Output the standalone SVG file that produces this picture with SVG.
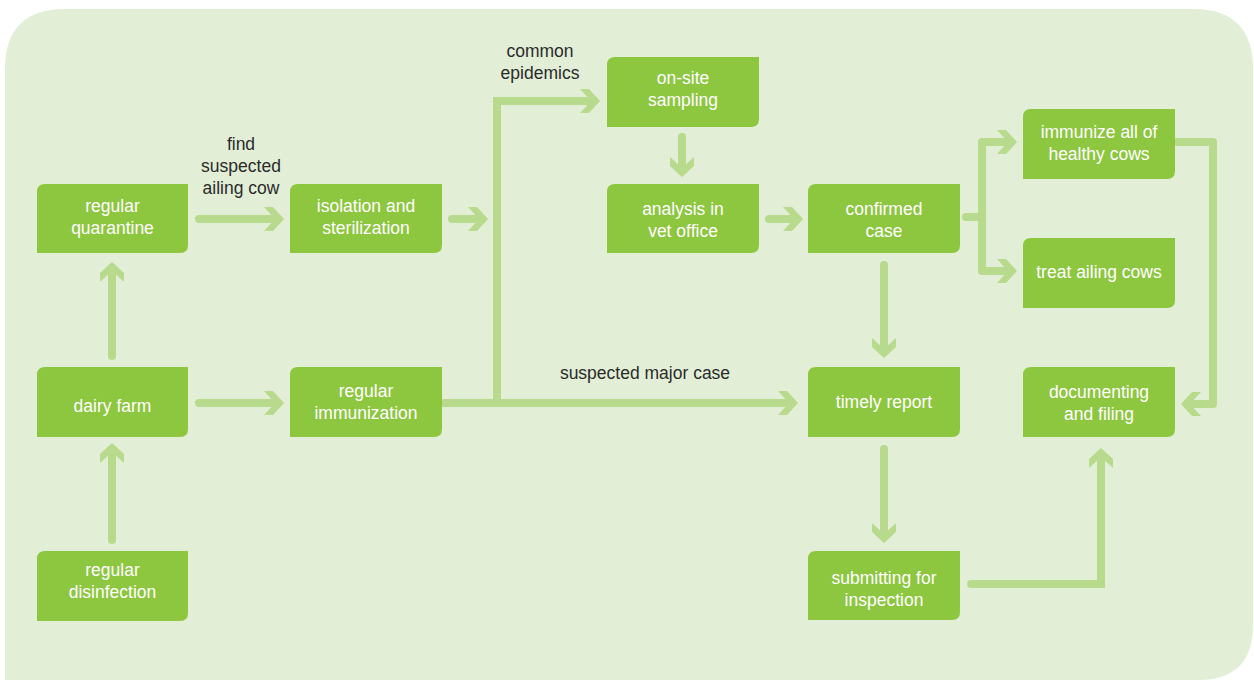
<svg xmlns="http://www.w3.org/2000/svg" width="1254" height="680" viewBox="0 0 1254 680">
<style>
.bg{fill:#e2efd6}
.node rect,.node path{fill:#8dc63f}
.nt{fill:#ffffff;font-family:"Liberation Sans",Arial,sans-serif;font-size:17.5px;text-anchor:middle}
.lbl{fill:#2b2b2b;font-family:"Liberation Sans",Arial,sans-serif;font-size:17.5px;text-anchor:middle}
.c{fill:none;stroke:#b8da8c;stroke-width:8;stroke-linecap:round;stroke-linejoin:round}
.cm{fill:none;stroke:#b8da8c;stroke-width:8;stroke-linecap:round;stroke-linejoin:miter}
</style>
<defs>
<marker id="ah" markerUnits="userSpaceOnUse" markerWidth="40" markerHeight="40" viewBox="-20 -20 40 40" refX="0" refY="0" orient="auto" overflow="visible">
<path d="M6,0 L-5,-12 L-14,-12 L-3,0 L-14,12 L-5,12 Z" fill="#b8da8c"/>
</marker>
</defs>
<path class="bg" d="M5,69 Q5,9 65,9 L1193,9 Q1253,9 1253,69 L1253,625 Q1253,680 1198,680 L5,680 Z"/>

<g id="connectors">
<path class="c" d="M199,219 L278,219" marker-end="url(#ah)"/>
<path class="c" d="M452,219 L482,219" marker-end="url(#ah)"/>
<path class="cm" d="M497,403 L497,101 L594,101" marker-end="url(#ah)"/>
<path class="c" d="M444,403 L792,403" marker-end="url(#ah)"/>
<path class="c" d="M682,137 L682,171" marker-end="url(#ah)"/>
<path class="c" d="M769,219 L797,219" marker-end="url(#ah)"/>
<path class="c" d="M966,217 L982,217"/>
<path class="c" d="M982,217 L982,142 L1011,142" marker-end="url(#ah)"/>
<path class="c" d="M982,217 L982,271 L1011,271" marker-end="url(#ah)"/>
<path class="c" d="M1177,142 L1213,142 L1213,404 L1187,404" marker-end="url(#ah)"/>
<path class="c" d="M884,265 L884,352" marker-end="url(#ah)"/>
<path class="c" d="M884,449 L884,537" marker-end="url(#ah)"/>
<path class="cm" d="M971,584 L1101,584 L1101,454" marker-end="url(#ah)"/>
<path class="c" d="M199,403 L278,403" marker-end="url(#ah)"/>
<path class="c" d="M112,356 L112,268" marker-end="url(#ah)"/>
<path class="c" d="M112,540 L112,449" marker-end="url(#ah)"/>
<text class="lbl" x="241" y="150">find</text>
<text class="lbl" x="241" y="172">suspected</text>
<text class="lbl" x="241" y="194">ailing cow</text>
<text class="lbl" x="540" y="57">common</text>
<text class="lbl" x="540" y="79">epidemics</text>
<text class="lbl" x="645" y="379">suspected major case</text>
</g>

<g id="regular-quarantine" class="node">
<path d="M45,184 L188,184 L188,245 Q188,253 180,253 L37,253 L37,192 Q37,184 45,184 Z"/>
<text class="nt" x="112.5" y="212">regular</text>
<text class="nt" x="112.5" y="234">quarantine</text>
</g>
<g id="isolation" class="node">
<path d="M298,184 L442,184 L442,245 Q442,253 434,253 L290,253 L290,192 Q290,184 298,184 Z"/>
<text class="nt" x="366" y="212">isolation and</text>
<text class="nt" x="366" y="234">sterilization</text>
</g>
<g id="on-site-sampling" class="node">
<path d="M615,57 L759,57 L759,119 Q759,127 751,127 L607,127 L607,65 Q607,57 615,57 Z"/>
<text class="nt" x="683" y="84">on-site</text>
<text class="nt" x="683" y="106">sampling</text>
</g>
<g id="analysis" class="node">
<path d="M615,184 L759,184 L759,245 Q759,253 751,253 L607,253 L607,192 Q607,184 615,184 Z"/>
<text class="nt" x="683" y="215">analysis in</text>
<text class="nt" x="683" y="237">vet office</text>
</g>
<g id="confirmed-case" class="node">
<path d="M816,184 L960,184 L960,245 Q960,253 952,253 L808,253 L808,192 Q808,184 816,184 Z"/>
<text class="nt" x="884" y="215">confirmed</text>
<text class="nt" x="884" y="237">case</text>
</g>
<g id="immunize" class="node">
<path d="M1031,109 L1175,109 L1175,171 Q1175,179 1167,179 L1023,179 L1023,117 Q1023,109 1031,109 Z"/>
<text class="nt" x="1099" y="138">immunize all of</text>
<text class="nt" x="1099" y="160">healthy cows</text>
</g>
<g id="treat" class="node">
<path d="M1031,238 L1175,238 L1175,300 Q1175,308 1167,308 L1023,308 L1023,246 Q1023,238 1031,238 Z"/>
<text class="nt" x="1099" y="278">treat ailing cows</text>
</g>
<g id="dairy-farm" class="node">
<path d="M45,367 L188,367 L188,429 Q188,437 180,437 L37,437 L37,375 Q37,367 45,367 Z"/>
<text class="nt" x="112.5" y="412">dairy farm</text>
</g>
<g id="regular-immunization" class="node">
<path d="M298,367 L442,367 L442,429 Q442,437 434,437 L290,437 L290,375 Q290,367 298,367 Z"/>
<text class="nt" x="366" y="397">regular</text>
<text class="nt" x="366" y="419">immunization</text>
</g>
<g id="timely-report" class="node">
<path d="M816,367 L960,367 L960,429 Q960,437 952,437 L808,437 L808,375 Q808,367 816,367 Z"/>
<text class="nt" x="884" y="408">timely report</text>
</g>
<g id="documenting" class="node">
<path d="M1031,367 L1175,367 L1175,429 Q1175,437 1167,437 L1023,437 L1023,375 Q1023,367 1031,367 Z"/>
<text class="nt" x="1099" y="398">documenting</text>
<text class="nt" x="1099" y="420">and filing</text>
</g>
<g id="regular-disinfection" class="node">
<path d="M45,551 L188,551 L188,613 Q188,621 180,621 L37,621 L37,559 Q37,551 45,551 Z"/>
<text class="nt" x="112.5" y="576">regular</text>
<text class="nt" x="112.5" y="598">disinfection</text>
</g>
<g id="submitting" class="node">
<path d="M816,551 L960,551 L960,612 Q960,620 952,620 L808,620 L808,559 Q808,551 816,551 Z"/>
<text class="nt" x="884" y="584">submitting for</text>
<text class="nt" x="884" y="606">inspection</text>
</g>
</svg>
